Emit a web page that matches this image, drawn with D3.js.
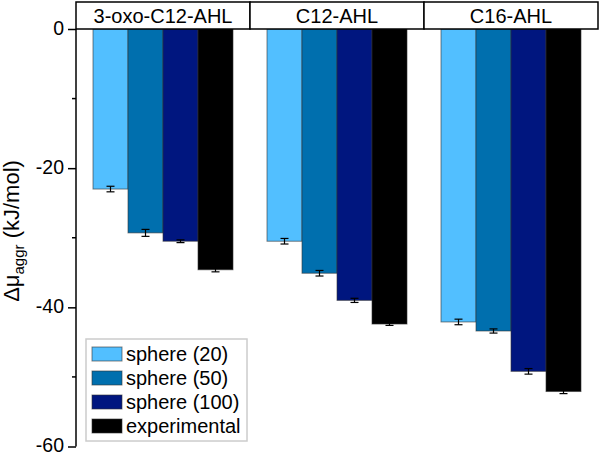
<!DOCTYPE html>
<html><head><meta charset="utf-8">
<script src="https://cdn.jsdelivr.net/npm/d3@7"></script>
<style>body{margin:0;background:#fff}svg{font-family:Arial,"Liberation Sans",sans-serif}</style>
</head><body><svg id="c" width="600" height="456"></svg>
<script>
const groups = ["3-oxo-C12-AHL", "C12-AHL", "C16-AHL"];
const series = ["sphere (20)", "sphere (50)", "sphere (100)", "experimental"];
const colors = ["#52bfff", "#006fae", "#00167f", "#000000"];
const values = [
  [-23.0, -29.3, -30.5, -34.6],
  [-30.5, -35.1, -39.0, -42.4],
  [-42.1, -43.4, -49.2, -52.1]
];
const errors = [
  [0.4, 0.5, 0.2, 0.3],
  [0.4, 0.4, 0.3, 0.2],
  [0.4, 0.3, 0.4, 0.3]
];
const yTicks = [0, -20, -40, -60];
const yMinor = [-10, -30, -50];

const svg = d3.select("#c");
const L = 76, R = 598, T = 29, B = 446.5;
const y = d3.scaleLinear().domain([0, -60]).range([T, B]);
const x0 = d3.scaleBand().domain(groups).range([L, R]).paddingInner(0).paddingOuter(0);
const x1 = d3.scaleBand().domain(series).range([17, x0.bandwidth() - 17]);
const col = d3.scaleOrdinal().domain(series).range(colors);

// bars
const g = svg.append("g");
groups.forEach((grp, gi) => {
  series.forEach((s, si) => {
    const v = values[gi][si];
    const bx = x0(grp) + x1(s);
    g.append("rect").attr("x", bx).attr("y", y(0)).attr("width", x1.bandwidth())
      .attr("height", y(v) - y(0)).attr("fill", col(s))
      .attr("stroke", "#333").attr("stroke-opacity", 0.6).attr("stroke-width", 1);
    const cx = bx + x1.bandwidth() / 2;
    const e = errors[gi][si];
    const eg = g.append("g").attr("stroke", "#000").attr("stroke-width", 1.2);
    eg.append("line").attr("x1", cx).attr("x2", cx).attr("y1", y(v - e)).attr("y2", y(v + e));
    eg.append("line").attr("x1", cx - 4).attr("x2", cx + 4).attr("y1", y(v - e)).attr("y2", y(v - e));
    eg.append("line").attr("x1", cx - 4).attr("x2", cx + 4).attr("y1", y(v + e)).attr("y2", y(v + e));
  });
});

// header panels
groups.forEach(grp => {
  svg.append("rect").attr("x", x0(grp)).attr("y", 2).attr("width", x0.bandwidth()).attr("height", T - 2)
    .attr("fill", "#fff").attr("stroke", "#000").attr("stroke-width", 1.5);
  svg.append("text").attr("x", x0(grp) + x0.bandwidth() / 2).attr("y", 23)
    .attr("text-anchor", "middle").attr("font-size", 20).text(grp);
});

// y axis
const ax = svg.append("g").attr("transform", `translate(${L},0)`)
  .call(d3.axisLeft(y).tickValues(yTicks).tickSize(8).tickPadding(4).tickFormat(d3.format("d")));
ax.select(".domain").attr("stroke-width", 1.5).attr("d", `M0,${T}V${B}`);
ax.selectAll(".tick line").attr("stroke-width", 1.5);
ax.selectAll(".tick text").attr("font-size", 19.5).attr("font-family", "Arial, 'Liberation Sans', sans-serif")
  .attr("dy", "0.28em").text(d => d === 0 ? "0" : String(d));
svg.append("g").attr("transform", `translate(${L},0)`)
  .selectAll("line").data(yMinor).join("line")
  .attr("x1", -4).attr("x2", 0).attr("y1", d => y(d)).attr("y2", d => y(d))
  .attr("stroke", "#000").attr("stroke-width", 1.5);

// y label
const lab = svg.append("text").attr("transform", `translate(19,231) rotate(-90)`)
  .attr("text-anchor", "middle").attr("font-size", 22);
lab.append("tspan").text("Δμ");
lab.append("tspan").attr("font-size", 15).attr("dy", 5).text("aggr");
lab.append("tspan").attr("dy", -5).text(" (kJ/mol)");

// legend
const lg = svg.append("g");
lg.append("rect").attr("x", 86).attr("y", 339).attr("width", 161).attr("height", 102)
  .attr("fill", "#fff").attr("stroke", "#ccc").attr("stroke-width", 1.5);
series.forEach((s, i) => {
  const yy = 347 + i * 24;
  lg.append("rect").attr("x", 92).attr("y", yy).attr("width", 30).attr("height", 14)
    .attr("fill", col(s)).attr("stroke", "#333").attr("stroke-opacity", 0.6);
  lg.append("text").attr("x", 126).attr("y", yy + 14).attr("font-size", 20).text(s);
});
</script></body></html>
